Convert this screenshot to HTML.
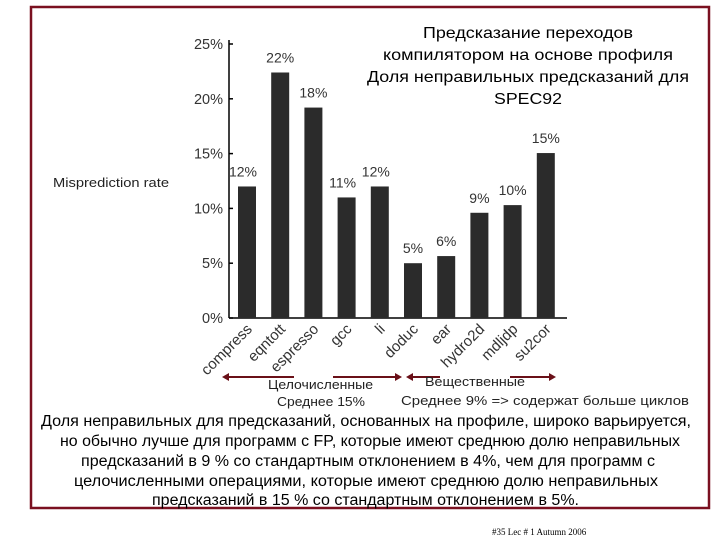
<!DOCTYPE html>
<html><head><meta charset="utf-8"><style>
body{margin:0;background:#fff;}
svg{display:block;font-family:"Liberation Sans","DejaVu Sans",sans-serif;}
</style></head><body>
<svg width="720" height="540" viewBox="0 0 720 540">
<rect x="31" y="7" width="678" height="501" fill="none" stroke="#7a1020" stroke-width="2.5"/>
<g font-size="16" text-anchor="middle" fill="#000" lengthAdjust="spacingAndGlyphs">
<text x="528" y="38" textLength="210" lengthAdjust="spacingAndGlyphs">Предсказание переходов</text>
<text x="528" y="60" textLength="290" lengthAdjust="spacingAndGlyphs">компилятором на основе профиля</text>
<text x="528" y="82" textLength="322" lengthAdjust="spacingAndGlyphs">Доля неправильных предсказаний для</text>
<text x="528" y="104" textLength="68" lengthAdjust="spacingAndGlyphs">SPEC92</text>
</g>
<text x="53" y="187" font-size="13" fill="#222" textLength="116" lengthAdjust="spacingAndGlyphs">Misprediction rate</text>
<g id="chart"></g>
<g fill="#222" font-size="13">
<line x1="224" y1="377" x2="294" y2="377" stroke="#6a1018" stroke-width="2"/>
<polygon points="222,377 229,373 229,381" fill="#6a1018"/>
<line x1="333" y1="377" x2="400" y2="377" stroke="#6a1018" stroke-width="2"/>
<polygon points="402,377 395,373 395,381" fill="#6a1018"/>
<line x1="408" y1="377" x2="440" y2="377" stroke="#6a1018" stroke-width="2"/>
<polygon points="406,377 413,373 413,381" fill="#6a1018"/>
<line x1="510" y1="377" x2="553" y2="377" stroke="#6a1018" stroke-width="2"/>
<polygon points="556,377 549,373 549,381" fill="#6a1018"/>
<text x="268" y="389" textLength="105" lengthAdjust="spacingAndGlyphs">Целочисленные</text>
<text x="277" y="406" textLength="88" lengthAdjust="spacingAndGlyphs">Среднее 15%</text>
<text x="425" y="386" textLength="100" lengthAdjust="spacingAndGlyphs">Вещественные</text>
<text x="401" y="405" textLength="288" lengthAdjust="spacingAndGlyphs">Среднее  9% =&gt; содержат больше циклов</text>
</g>
<g font-size="15.5" fill="#000">
<text x="41" y="426" textLength="650" lengthAdjust="spacingAndGlyphs">Доля неправильных для предсказаний, основанных на профиле, широко варьируется,</text>
<text x="60" y="446" textLength="620" lengthAdjust="spacingAndGlyphs">но обычно лучше для программ с FP, которые имеют среднюю долю неправильных</text>
<text x="81" y="466" textLength="574" lengthAdjust="spacingAndGlyphs">предсказаний в 9 % со стандартным отклонением в 4%, чем для программ с</text>
<text x="74" y="486" textLength="584" lengthAdjust="spacingAndGlyphs">целочисленными  операциями, которые имеют среднюю долю неправильных</text>
<text x="152" y="505" textLength="427" lengthAdjust="spacingAndGlyphs">предсказаний в 15 % со стандартным отклонением в 5%.</text>
</g>
<text x="492" y="535" font-family="Liberation Serif,serif" font-size="9" fill="#000">#35  Lec # 1  Autumn 2006</text>
</svg>
<script>
const categories=["compress","eqntott","espresso","gcc","li","doduc","ear","hydro2d","mdljdp","su2cor"];
const values=[12,22.4,19.2,11,12,5,5.65,9.6,10.3,15.05];
const valueLabels=["12%","22%","18%","11%","12%","5%","6%","9%","10%","15%"];
const yTicks=[0,5,10,15,20,25];
const NS="http://www.w3.org/2000/svg";
const g=document.getElementById('chart');
const y0=318,pxPer=10.96,x0=229,step=33.2,first=247,bw=18;
const y=v=>y0-v*pxPer, x=i=>first+i*step;
function mk(t,a){const e=document.createElementNS(NS,t);for(const k in a)e.setAttribute(k,a[k]);g.appendChild(e);return e;}
let ax=mk('line',{x1:x0,y1:40,x2:x0,y2:y0,stroke:'#000','stroke-width':1.5});


let xa=mk('line',{x1:x0,y1:y0,x2:567,y2:y0,stroke:'#000','stroke-width':1.5});


yTicks.forEach(t=>{
 let l=mk('line',{x1:x0,y1:y(t),x2:x0+4,y2:y(t),stroke:'#000','stroke-width':1.5});
 
 
 let tx=mk('text',{x:223,y:y(t)+5,'text-anchor':'end','font-size':14.5,fill:'#333'});
 tx.textContent=t+'%';
 
 
});
categories.forEach((c,i)=>{
 let r=mk('rect',{x:x(i)-bw/2,y:y(values[i]),width:bw,height:values[i]*pxPer,fill:'#2b2b2b'});
 
 
 let vl=mk('text',{x:x(i)-(i==0||i==4||i==3?4:0),y:y(values[i])-10,'text-anchor':'middle','font-size':14,fill:'#333'});
 vl.textContent=valueLabels[i];
 
 
 let xl=mk('text',{x:x(i)+6,y:y0+12,'text-anchor':'end','font-size':15,fill:'#333',transform:`rotate(-45 ${x(i)+6} ${y0+12})`});
 xl.textContent=c;
 
 
});
</script>
</body></html>
